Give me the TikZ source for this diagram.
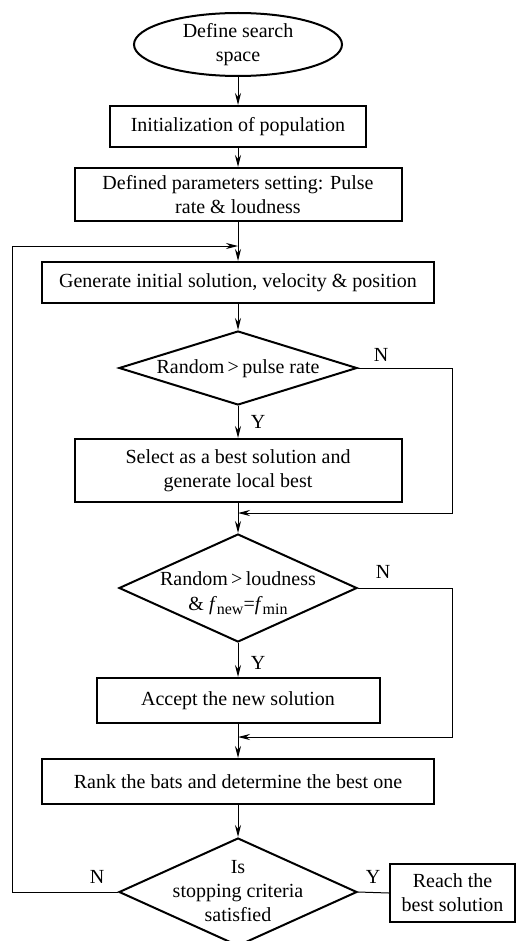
\documentclass[tikz,border=0pt]{standalone}
\usepackage{fontspec}
\setmainfont{Liberation Serif}
\usetikzlibrary{arrows.meta,shapes.geometric}
\newcommand{\fs}{\fontsize{20}{24}\selectfont}
\newcommand{\subtxt}[1]{\raisebox{-0.5ex}{\fontsize{16}{16}\selectfont #1}}
\tikzset{
  box/.style={draw,line width=2pt,inner sep=0pt,align=center,font=\fs},
  dia/.style={draw,shape=diamond,line width=2pt,inner sep=0pt},
  txt/.style={align=center,font=\fs,inner sep=0pt},
  lab/.style={font=\fs,inner sep=0pt},
  conn/.style={line width=1pt},
  arr/.style={line width=1pt,-{Stealth[length=12pt,width=6pt]}}
}
\begin{document}
\begin{tikzpicture}[x=1pt,y=-1pt]
\useasboundingbox (0,0) rectangle (517,941);
\clip (0,0) rectangle (517,941);
\fill[white] (0,0) rectangle (517,941);
% nodes
\node[draw,ellipse,line width=2pt,inner sep=0pt,minimum width=208pt,minimum height=63pt,align=center,font=\fs] (ell) at (238,44.5) {Define search\\space};
\node[box,minimum width=256pt,minimum height=41pt] (b1) at (238,126.5) {Initialization of population};
\node[box,minimum width=327pt,minimum height=53pt] (b2) at (238,194.5) {Defined parameters setting: Pulse\\rate \& loudness};
\node[box,minimum width=392pt,minimum height=41pt] (b3) at (238,282.5) {Generate initial solution, velocity \& position};
\node[dia,minimum width=238pt,minimum height=74pt] (d1) at (238,368) {};
\node[txt] (t1) at (238,369) {Random\,>\,pulse rate};
\node[box,minimum width=327pt,minimum height=63pt] (b4) at (238,470.5) {Select as a best solution and\\generate local best};
\node[dia,minimum width=238pt,minimum height=108pt] (d2) at (238,588) {};
\node[txt] (t2) at (238,593) {Random\,>\,loudness\\[1pt]\& \textit{f}\subtxt{new}=\textit{f}\subtxt{min}};
\node[box,minimum width=283pt,minimum height=45pt] (b5) at (238,700.5) {Accept the new solution};
\node[box,minimum width=392pt,minimum height=45pt] (b6) at (238,781.5) {Rank the bats and determine the best one};
\node[dia,minimum width=238pt,minimum height=108pt] (d3) at (238,892) {};
\node[txt] (t3) at (238,891) {Is\\stopping criteria\\satisfied};
\node[box,minimum width=125pt,minimum height=58pt] (b7) at (452.5,893) {Reach the\\best solution};
% junction coordinates
\coordinate (j0) at (238,246);
\coordinate (lp) at (12,246);
\coordinate (r1) at (452,513);
\coordinate (j1) at (238,513);
\coordinate (r2) at (452,737);
\coordinate (j2) at (238,737);
% connectors
\draw[arr] (ell.south) -- (b1.north);
\draw[arr] (b1.south) -- (b2.north);
\draw[arr] (b2.south) -- (b3.north);
\draw[arr] (b3.south) -- (d1.north);
\draw[arr] (d1.south) -- (b4.north);
\draw[arr] (b4.south) -- (d2.north);
\draw[arr] (d2.south) -- (b5.north);
\draw[arr] (b5.south) -- (b6.north);
\draw[arr] (b6.south) -- (d3.north);
\draw[conn] (d3.east) -- (b7.west);
\draw[arr] (d1.east) -| (r1) -- (j1);
\draw[arr] (d2.east) -| (r2) -- (j2);
\draw[arr] (d3.west) -| (lp) -- (j0);
% labels
\node[lab] (n1) at (381,355) {N};
\node[lab] (y1) at (258,422) {Y};
\node[lab] (n2) at (383,572) {N};
\node[lab] (y2) at (258,663) {Y};
\node[lab] (n3) at (97,877) {N};
\node[lab] (y3) at (373,877) {Y};
\end{tikzpicture}
\end{document}
